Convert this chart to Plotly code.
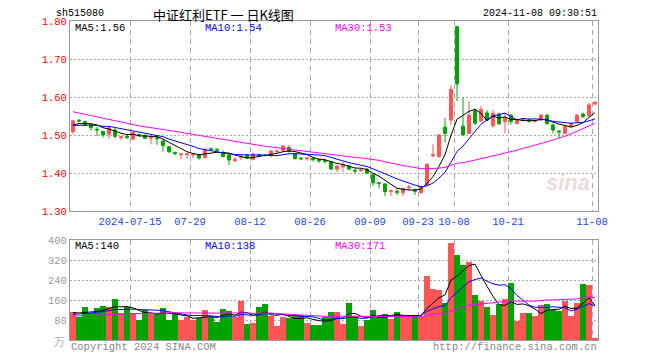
import plotly.graph_objects as go

# ---------------- data ----------------
tick_index = [10, 20, 30, 40, 50, 58, 64, 73, 87]
tick_labels = ["2024-07-15", "07-29", "08-12", "08-26", "09-09", "09-23", "10-08", "10-21", "11-08"]

opens = [1.510, 1.540, 1.536, 1.528, 1.516, 1.510, 1.503, 1.514, 1.494, 1.497,
         1.490, 1.502, 1.500, 1.492, 1.494, 1.485, 1.470, 1.455, 1.449, 1.449,
         1.448, 1.448, 1.442, 1.465, 1.463, 1.455, 1.448, 1.433, 1.442, 1.448,
         1.437, 1.449, 1.448, 1.447, 1.457, 1.460, 1.468, 1.452, 1.440, 1.438,
         1.439, 1.436, 1.434, 1.430, 1.411, 1.417, 1.419, 1.408, 1.407, 1.411,
         1.396, 1.375, 1.372, 1.352, 1.353, 1.349, 1.362, 1.356, 1.349, 1.369,
         1.446, 1.444, 1.521, 1.540, 1.786, 1.524, 1.505, 1.565, 1.538, 1.559,
         1.525, 1.556, 1.536, 1.553, 1.531, 1.540, 1.540, 1.537, 1.540, 1.553,
         1.527, 1.511, 1.505, 1.523, 1.536, 1.556, 1.551, 1.582]
highs = [1.540, 1.543, 1.538, 1.530, 1.522, 1.512, 1.522, 1.520, 1.497, 1.500,
         1.510, 1.505, 1.502, 1.496, 1.497, 1.487, 1.472, 1.457, 1.451, 1.455,
         1.452, 1.450, 1.465, 1.468, 1.466, 1.460, 1.450, 1.443, 1.447, 1.450,
         1.453, 1.451, 1.451, 1.460, 1.462, 1.474, 1.474, 1.454, 1.443, 1.443,
         1.442, 1.438, 1.436, 1.431, 1.421, 1.430, 1.423, 1.412, 1.413, 1.414,
         1.398, 1.378, 1.374, 1.358, 1.360, 1.362, 1.369, 1.360, 1.366, 1.426,
         1.476, 1.503, 1.545, 1.632, 1.788, 1.600, 1.591, 1.571, 1.578, 1.566,
         1.566, 1.560, 1.560, 1.556, 1.543, 1.545, 1.543, 1.541, 1.556, 1.556,
         1.531, 1.514, 1.525, 1.533, 1.556, 1.560, 1.585, 1.590]
lows = [1.503, 1.533, 1.525, 1.512, 1.498, 1.494, 1.490, 1.492, 1.487, 1.490,
        1.488, 1.496, 1.490, 1.476, 1.475, 1.457, 1.453, 1.447, 1.437, 1.438,
        1.440, 1.436, 1.438, 1.460, 1.457, 1.442, 1.422, 1.430, 1.435, 1.438,
        1.434, 1.443, 1.444, 1.442, 1.454, 1.458, 1.455, 1.436, 1.434, 1.433,
        1.431, 1.427, 1.426, 1.408, 1.402, 1.404, 1.408, 1.400, 1.404, 1.398,
        1.367, 1.360, 1.340, 1.341, 1.343, 1.340, 1.355, 1.343, 1.347, 1.367,
        1.442, 1.440, 1.481, 1.527, 1.590, 1.500, 1.503, 1.527, 1.535, 1.538,
        1.520, 1.528, 1.505, 1.528, 1.529, 1.537, 1.534, 1.533, 1.538, 1.528,
        1.505, 1.492, 1.503, 1.520, 1.533, 1.545, 1.550, 1.581]
closes = [1.538, 1.538, 1.527, 1.520, 1.514, 1.501, 1.520, 1.497, 1.496, 1.494,
          1.507, 1.499, 1.492, 1.494, 1.491, 1.473, 1.457, 1.452, 1.451, 1.451,
          1.450, 1.440, 1.463, 1.463, 1.461, 1.444, 1.435, 1.437, 1.445, 1.440,
          1.451, 1.447, 1.447, 1.459, 1.459, 1.472, 1.457, 1.439, 1.438, 1.440,
          1.436, 1.433, 1.431, 1.411, 1.419, 1.422, 1.411, 1.406, 1.409, 1.400,
          1.375, 1.373, 1.352, 1.354, 1.350, 1.360, 1.364, 1.353, 1.365, 1.424,
          1.449, 1.501, 1.505, 1.621, 1.635, 1.501, 1.553, 1.532, 1.568, 1.540,
          1.558, 1.530, 1.545, 1.536, 1.540, 1.542, 1.536, 1.539, 1.553, 1.531,
          1.514, 1.509, 1.523, 1.531, 1.553, 1.549, 1.580, 1.587]
volumes = [114, 94, 132, 108, 129, 137, 132, 165, 108, 132,
           110, 81, 121, 105, 108, 130, 81, 108, 79, 92,
           79, 88, 121, 94, 74, 125, 117, 92, 155, 65,
           70, 132, 145, 97, 57, 92, 88, 101, 101, 68,
           61, 61, 92, 114, 113, 65, 149, 97, 57, 81,
           121, 97, 105, 85, 113, 97, 97, 94, 94, 258,
           205, 200, 150, 390, 342, 300, 312, 180, 155, 131,
           101, 146, 165, 228, 78, 110, 110, 97, 140, 145,
           122, 118, 155, 97, 150, 225, 219, 9]

# sessions before the visible window (only feed the moving averages at the left edge)
prior_closes = [1.640, 1.632, 1.628, 1.620, 1.615, 1.610, 1.612, 1.605, 1.598, 1.590,
                1.575, 1.566, 1.558, 1.552, 1.545, 1.540, 1.536, 1.533, 1.528, 1.517,
                1.532, 1.520, 1.526, 1.521, 1.526, 1.519, 1.527, 1.522, 1.529]
prior_volumes = [88, 102, 95, 79, 110, 92, 85, 98, 90, 104,
                 87, 96, 91, 83, 100, 97, 89, 94, 105, 85,
                 92, 101, 88, 104, 95, 108, 121, 99, 118]

RED = "#ff5555"
GREEN = "#00a400"
GRID = "#a8a8a8"
AXIS = "#999999"
MONO = "Liberation Mono, DejaVu Sans Mono, monospace"


def moving_avg(prior, vals, n):
    seq = list(prior) + list(vals)
    out = []
    off = len(prior)
    for i in range(len(vals)):
        j = off + i
        window = seq[max(0, j - n + 1): j + 1]
        out.append(sum(window) / len(window))
    return out


N = len(closes)
xs = list(range(N))
ma5 = moving_avg(prior_closes, closes, 5)
ma10 = moving_avg(prior_closes, closes, 10)
ma30 = moving_avg(prior_closes, closes, 30)
vma5 = moving_avg(prior_volumes, volumes, 5)
vma10 = moving_avg(prior_volumes, volumes, 10)
vma30 = moving_avg(prior_volumes, volumes, 30)

# the page body keeps the browser's default 8px margin, so the figure is drawn
# 8px smaller and all screen positions are shifted by that offset
OFF = 8
W, H = 660 - OFF, 360 - OFF


def fx(p):
    return (p - OFF) / W


def fy(p):
    return 1 - (p - OFF) / H


fig = go.Figure()

fig.add_trace(go.Candlestick(
    x=xs, open=opens, high=highs, low=lows, close=closes,
    increasing=dict(line=dict(color=RED, width=1), fillcolor=RED),
    decreasing=dict(line=dict(color=GREEN, width=1), fillcolor=GREEN),
    whiskerwidth=0, xaxis="x", yaxis="y", hoverinfo="skip"))

for vals, col in [(ma5, "#000000"), (ma10, "#0000ff"), (ma30, "#ff00ff")]:
    fig.add_trace(go.Scatter(x=xs, y=vals, mode="lines", line=dict(color=col, width=1),
                             xaxis="x", yaxis="y", hoverinfo="skip"))

vol_colors = [RED if c >= o else GREEN for o, c in zip(opens, closes)]
fig.add_trace(go.Bar(x=xs, y=volumes, width=0.84, marker=dict(color=vol_colors, line=dict(width=0)),
                     xaxis="x2", yaxis="y2", hoverinfo="skip"))
for vals, col in [(vma5, "#000000"), (vma10, "#0000ff"), (vma30, "#ff00ff")]:
    fig.add_trace(go.Scatter(x=xs, y=vals, mode="lines", line=dict(color=col, width=1),
                             xaxis="x2", yaxis="y2", hoverinfo="skip"))

grid_x = [i - 0.5 for i in tick_index]
xdom = [fx(70), fx(598)]

axis_common = dict(showline=True, linecolor=AXIS, linewidth=1, mirror=True, zeroline=False,
                   ticks="", fixedrange=True, automargin=False)

fig.update_layout(
    template="none",
    width=W, height=H, margin=dict(l=0, r=0, t=0, b=0, pad=0, autoexpand=False),
    paper_bgcolor="white", plot_bgcolor="white", showlegend=False,
    boxgap=0.3, bargap=0,
    xaxis=dict(domain=xdom, range=[-0.5, N - 0.5], tickvals=grid_x, ticktext=tick_labels,
               showgrid=True, gridcolor=GRID, griddash="5px,4px", gridwidth=1,
               tickfont=dict(family=MONO, size=10.5, color="#2244ee"),
               rangeslider=dict(visible=False), anchor="y", **axis_common),
    yaxis=dict(domain=[fy(211.3), fy(21.3)], range=[1.30, 1.80],
               tickvals=[1.30, 1.40, 1.50, 1.60, 1.70, 1.80],
               ticktext=["1.30", "1.40", "1.50", "1.60", "1.70", "1.80"],
               showgrid=True, gridcolor=GRID, griddash="2px,2px", gridwidth=1,
               tickfont=dict(family=MONO, size=10.5, color="#ff0000"), anchor="x", **axis_common),
    xaxis2=dict(domain=xdom, range=[-0.5, N - 0.5], tickvals=grid_x, showticklabels=False,
                showgrid=True, gridcolor=GRID, griddash="5px,4px", gridwidth=1,
                anchor="y2", **axis_common),
    yaxis2=dict(domain=[fy(340.3), fy(240.3)], range=[0, 400],
                tickvals=[80, 160, 240, 320, 400], ticktext=["80", "160", "240", "320", "400"],
                showgrid=True, gridcolor=GRID, griddash="2px,2px", gridwidth=1,
                tickfont=dict(family=MONO, size=10.5, color="#999999"), anchor="x2", **axis_common),
)

ann = []


def add_text(text, x, y, color="#000000", size=10.5, family=MONO, xanchor="left", **kw):
    ann.append(dict(text=text, x=fx(x), y=fy(y), xref="paper", yref="paper", showarrow=False,
                    xanchor=xanchor, yanchor="middle", borderpad=0,
                    font=dict(family=family, size=size, color=color), **kw))


add_text("sh515080", 55, 13.5, size=10)
add_text("中证红利ETF 一 日K线图", 223, 14, size=13, family="Noto Sans CJK SC", xanchor="center")
add_text("2024-11-08 09:30:51", 598, 13.5, size=10, xanchor="right")
add_text("MA5:%.2f" % ma5[-1], 74, 28)
add_text("MA10:%.2f" % ma10[-1], 204, 28, color="#0000ff")
add_text("MA30:%.2f" % ma30[-1], 334, 28, color="#ff00ff")
add_text("MA5:%d" % round(vma5[-1]), 74, 246)
add_text("MA10:%d" % round(vma10[-1]), 204, 246, color="#0000ff")
add_text("MA30:%d" % round(vma30[-1]), 334, 246, color="#ff00ff")
add_text("万", 66, 341, color="#b0b0b0", size=11, family="Noto Sans CJK SC", xanchor="right")
add_text("Copyright 2024 SINA.COM", 70, 347, color="#888888")
add_text("http://finance.sina.com.cn", 598, 347, color="#888888", xanchor="right")
add_text("<b><i>sina</i></b>", 568, 182, color="rgba(200,150,150,0.35)", size=22,
         family="Liberation Sans, Arial", xanchor="center")

fig.update_layout(annotations=ann)
fig.write_html("out.html")
